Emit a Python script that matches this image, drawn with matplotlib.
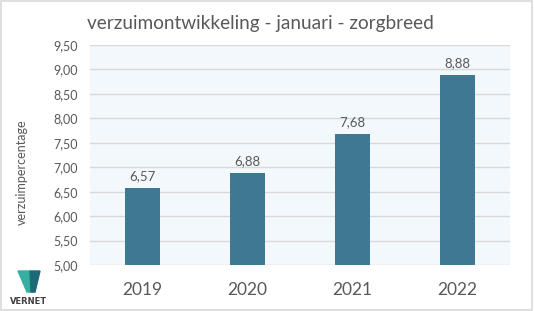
import matplotlib
matplotlib.use("Agg")
import matplotlib.pyplot as plt
from matplotlib.patches import Polygon, Rectangle

years = ["2019", "2020", "2021", "2022"]
values = [6.57, 6.88, 7.68, 8.88]
yticks = [5.00, 5.50, 6.00, 6.50, 7.00, 7.50, 8.00, 8.50, 9.00, 9.50]

plt.rcParams['font.family'] = ['Lato', 'DejaVu Sans']
grey = '#595959'

fig = plt.figure(figsize=(5.34, 3.11), dpi=100)
fig.patch.set_facecolor('white')
fig.patches.append(Rectangle((0.002, 0.003), 0.995, 0.993, transform=fig.transFigure,
                             fill=False, edgecolor='#d9d9d9', linewidth=1.2))

ax = fig.add_axes([90/534, 1-265/311, 420/534, 220/311])
ax.set_facecolor('#f3f8fc')
x = range(len(years))
bars = ax.bar(x, values, width=0.33, color='#3f7891', zorder=3)
ax.set_ylim(5.0, 9.5)
ax.set_xlim(-0.5, 3.5)
ax.set_yticks(yticks)
ax.set_yticklabels([f"{v:.2f}".replace('.', ',') for v in yticks], color=grey, fontsize=9)
ax.set_xticks(list(x))
ax.set_xticklabels(years, color=grey, fontsize=12.5)
ax.grid(axis='y', color='#d9d9d9', linewidth=1, zorder=0)
for s in ax.spines.values():
    s.set_visible(False)
ax.tick_params(axis='both', length=0)
ax.tick_params(axis='y', pad=9)
ax.tick_params(axis='x', pad=12)
for xi, v in zip(x, values):
    ax.text(xi, v + 0.12, f"{v:.2f}".replace('.', ','), ha='center', va='bottom',
            color=grey, fontsize=9.5)

fig.text(87/534, 1-24/311, "verzuimontwikkeling - januari - zorgbreed", color=grey,
         fontsize=13.7, ha='left', va='center')
fig.text(22/534, 1-172/311, "verzuimpercentage", color=grey, fontsize=9,
         rotation=90, ha='center', va='center')

# logo
def px(xp, yp):
    return (xp/534, 1-yp/311)
fig.patches.append(Polygon([px(18, 271), px(30, 271), px(35, 292), px(27, 292)],
                           closed=True, transform=fig.transFigure, color='#35b0a0'))
fig.patches.append(Polygon([px(30, 271), px(40, 271), px(35, 292), px(31, 292)],
                           closed=True, transform=fig.transFigure, color='#1c6a78'))
fig.text(29/534, 1-302/311, "VERNET", color='#404040', fontsize=6, fontweight='bold',
         ha='center', va='center', family='DejaVu Sans')

fig.savefig("out.png", dpi=100)
